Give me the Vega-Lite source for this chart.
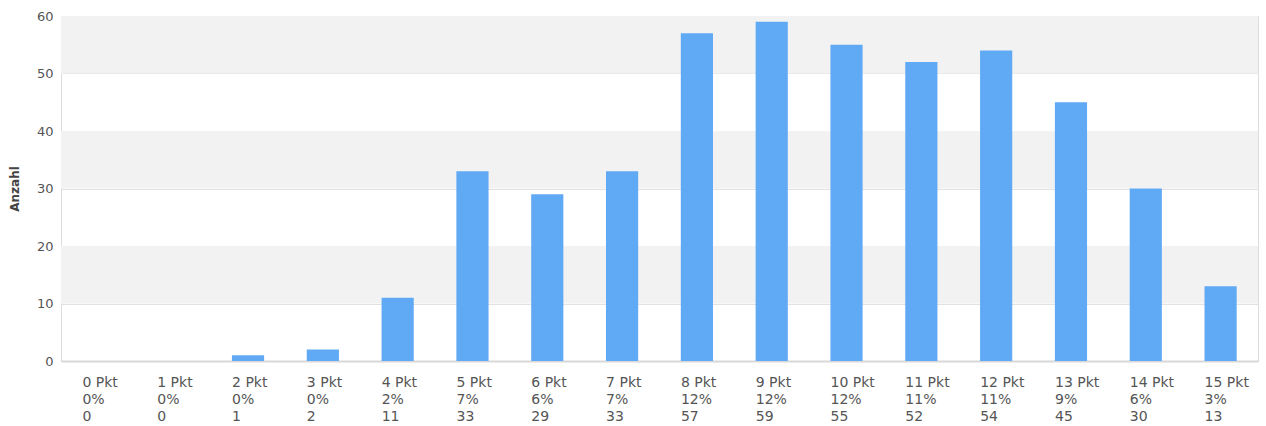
{
  "$schema": "https://vega.github.io/schema/vega-lite/v6.json",
  "autosize": {"type": "none"},
  "width": 1197,
  "height": 345,
  "padding": {"left": 61, "top": 16, "right": 8, "bottom": 65},
  "background": "white",
  "config": {
    "font": "DejaVu Sans",
    "view": {"stroke": "#dcdcdc", "strokeWidth": 1}
  },
  "datasets": {
    "bars": [
      {"label": "0 Pkt\n0%\n0", "anzahl": 0},
      {"label": "1 Pkt\n0%\n0", "anzahl": 0},
      {"label": "2 Pkt\n0%\n1", "anzahl": 1},
      {"label": "3 Pkt\n0%\n2", "anzahl": 2},
      {"label": "4 Pkt\n2%\n11", "anzahl": 11},
      {"label": "5 Pkt\n7%\n33", "anzahl": 33},
      {"label": "6 Pkt\n6%\n29", "anzahl": 29},
      {"label": "7 Pkt\n7%\n33", "anzahl": 33},
      {"label": "8 Pkt\n12%\n57", "anzahl": 57},
      {"label": "9 Pkt\n12%\n59", "anzahl": 59},
      {"label": "10 Pkt\n12%\n55", "anzahl": 55},
      {"label": "11 Pkt\n11%\n52", "anzahl": 52},
      {"label": "12 Pkt\n11%\n54", "anzahl": 54},
      {"label": "13 Pkt\n9%\n45", "anzahl": 45},
      {"label": "14 Pkt\n6%\n30", "anzahl": 30},
      {"label": "15 Pkt\n3%\n13", "anzahl": 13}
    ],
    "bands": [
      {"from": 10, "to": 20},
      {"from": 30, "to": 40},
      {"from": 50, "to": 60}
    ]
  },
  "layer": [
    {
      "data": {"name": "bands"},
      "mark": {"type": "rect", "color": "#f2f2f2"},
      "encoding": {
        "y": {"field": "from", "type": "quantitative", "scale": {"domain": [0, 60]}},
        "y2": {"field": "to"}
      }
    },
    {
      "data": {"name": "bars"},
      "mark": {"type": "bar", "color": "#60a9f5"},
      "encoding": {
        "x": {
          "field": "label",
          "type": "nominal",
          "sort": null,
          "scale": {"paddingInner": 0.57, "paddingOuter": 0.285},
          "axis": {
            "title": null,
            "labelAngle": 0,
            "labelAlign": "left",
            "labelBaseline": "top",
            "labelOffset": -16,
            "labelExpr": "split(datum.label, '\\n')",
            "labelLineHeight": 17,
            "labelFontSize": 14,
            "labelColor": "#555555",
            "labelPadding": 14,
            "ticks": false,
            "domainColor": "#d8d8d8",
            "domainWidth": 2,
            "labelOverlap": false
          }
        },
        "y": {
          "field": "anzahl",
          "type": "quantitative",
          "scale": {"domain": [0, 60], "nice": false},
          "axis": {
            "title": "Anzahl",
            "titleFontSize": 12,
            "titleFontWeight": "bold",
            "titleColor": "#444444",
            "titlePadding": 15,
            "values": [0, 10, 20, 30, 40, 50, 60],
            "labelFontSize": 13,
            "labelColor": "#555555",
            "labelPadding": 8,
            "ticks": false,
            "domain": false,
            "gridColor": "#e2e2e2",
            "grid": true
          }
        }
      }
    }
  ]
}
